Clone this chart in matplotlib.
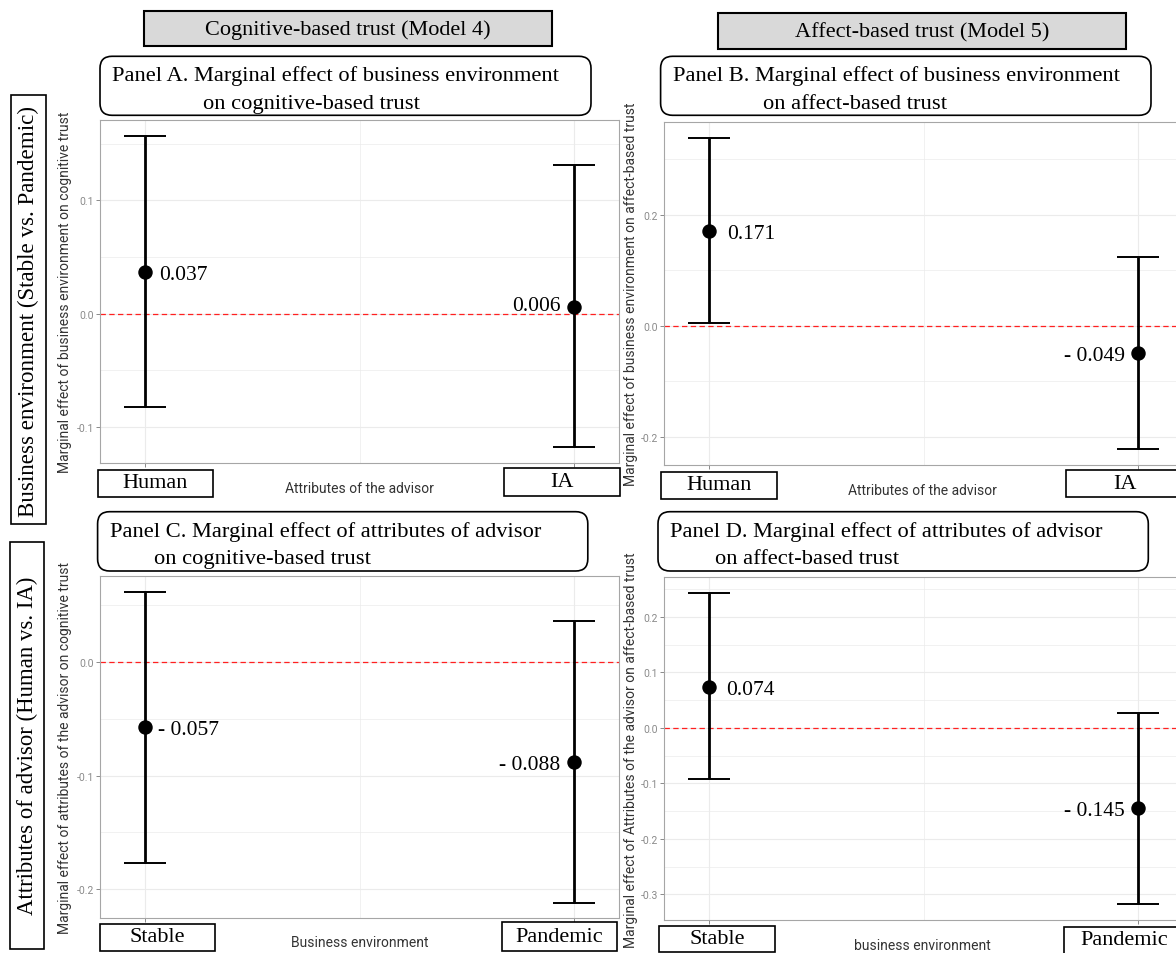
import matplotlib
matplotlib.use('Agg')
import matplotlib.pyplot as plt
from matplotlib.patches import Rectangle, FancyBboxPatch
from matplotlib.ticker import MultipleLocator, FormatStrFormatter
from matplotlib.transforms import Bbox, TransformedBbox

plt.rcParams['axes.unicode_minus'] = False

# ---- data ----
advisor_cats = ['Human', 'IA']
env_cats = ['Stable', 'Pandemic']

# Panel A: effect of business environment on cognitive-based trust
a_est = [0.037, 0.006]
a_low = [-0.082, -0.118]
a_high = [0.157, 0.131]
a_text = ['0.037', '0.006']

# Panel B: effect of business environment on affect-based trust
b_est = [0.171, -0.049]
b_low = [0.004, -0.223]
b_high = [0.338, 0.124]
b_text = ['0.171', '- 0.049']

# Panel C: effect of attributes of advisor on cognitive-based trust
c_est = [-0.057, -0.088]
c_low = [-0.177, -0.212]
c_high = [0.062, 0.036]
c_text = ['- 0.057', '- 0.088']

# Panel D: effect of attributes of advisor on affect-based trust
d_est = [0.074, -0.145]
d_low = [-0.093, -0.318]
d_high = [0.243, 0.027]
d_text = ['0.074', '- 0.145']

W, H = 1176, 954
SERIF = 'Liberation Serif'
SANS = 'Roboto'

fig = plt.figure(figsize=(W / 100, H / 100), dpi=100)
inch = fig.dpi_scale_trans


def pin(x, y):
    return x / 100.0, (H - y) / 100.0


def ftext(x, y, s, **kw):
    return fig.text(*pin(x, y), s, transform=inch, **kw)


def box(x0, y0, x1, y1, fc='white', lw=1.2):
    fig.add_artist(Rectangle(pin(x0, y1), (x1 - x0) / 100, (y1 - y0) / 100,
                             transform=inch, fc=fc, ec='black', lw=lw, zorder=3))


def rbox(x0, y0, x1, y1):
    fig.add_artist(FancyBboxPatch(pin(x0, y1), (x1 - x0) / 100, (y1 - y0) / 100,
                                  boxstyle='round,pad=0,rounding_size=0.12',
                                  transform=inch, fc='white', ec='black', lw=1.2, zorder=3))


def draw_panel(left, top, bottom, est, low, high, texts, step, near_dx, far_dy=0):
    width = 1.21 * 428.6
    ax = fig.add_axes([left / W, 1 - bottom / H, width / W, (bottom - top) / H])
    x = list(range(1, len(est) + 1))
    lo, hi = min(low), max(high)
    pad = 0.05 * (hi - lo)
    ax.set_ylim(lo - pad, hi + pad)
    ax.set_xlim(0.895, 2.105)
    ax.yaxis.set_major_locator(MultipleLocator(step))
    ax.yaxis.set_minor_locator(MultipleLocator(step / 2))
    ax.yaxis.set_major_formatter(FormatStrFormatter('%.1f'))
    ax.set_xticks(x)
    ax.set_xticks([1.5], minor=True)
    ax.set_xticklabels([])
    ax.grid(which='major', color='#ebebeb', lw=0.8)
    ax.grid(which='minor', color='#ebebeb', lw=0.5)
    ax.set_axisbelow(True)
    ax.tick_params(axis='both', which='major', length=3, width=0.7, color='#8a8a8a',
                   labelsize=7.5, labelcolor='#8a8a8a', pad=1.5)
    ax.tick_params(axis='both', which='minor', length=0)
    for lab in ax.get_yticklabels():
        lab.set_fontfamily(SANS)
    for sp in ax.spines.values():
        sp.set_color('#a6a6a6')
        sp.set_linewidth(0.8)
    ax.axhline(0, color='#ff2020', lw=0.9, dashes=(4.3, 2.7), zorder=1)
    yerr = [[e - l for e, l in zip(est, low)], [h - e for e, h in zip(est, high)]]
    ax.errorbar(x, est, yerr=yerr, fmt='o', color='black', ms=9.4,
                elinewidth=2.0, capsize=15.4, capthick=1.4, zorder=3)
    # value labels: first category to the right of the point, second to the left
    ax.annotate(texts[0], (x[0], est[0]), xytext=(near_dx, 0), textcoords='offset points',
                ha='left', va='center_baseline', fontsize=15.5, family=SERIF)
    ax.annotate(texts[1], (x[1], est[1]), xytext=(-9.5, far_dy), textcoords='offset points',
                ha='right', va='center_baseline', fontsize=15.5, family=SERIF)
    return ax


ax_a = draw_panel(100.3, 121, 464, a_est, a_low, a_high, a_text, 0.1, 10, far_dy=3)
ax_b = draw_panel(664.4, 123.3, 466, b_est, b_low, b_high, b_text, 0.2, 13)
ax_c = draw_panel(100.3, 577.3, 919.3, c_est, c_low, c_high, c_text, 0.1, 9)
ax_d = draw_panel(664.4, 578.3, 921, d_est, d_low, d_high, d_text, 0.1, 12)

# axis titles
ylab_kw = dict(rotation=90, ha='center', va='center', fontsize=10, family=SANS, color='#333333')
ftext(65, 292, 'Marginal effect of business environment on cognitive trust', **ylab_kw)
ftext(631, 294, 'Marginal effect of business environment on affect-based trust', **ylab_kw)
ftext(65.5, 748, 'Marginal effect of attributes of the advisor on cognitive trust', **ylab_kw)
lab_d = ftext(631, 750, 'Marginal effect of Attributes of the advisor on affect-based trust', **ylab_kw)
lab_d.set_clip_box(TransformedBbox(Bbox.from_extents(600 / 100, 0, 660 / 100, (H - 553) / 100), inch))
lab_d.set_clip_on(True)

xlab_kw = dict(ha='center', va='center', fontsize=10, family=SANS, color='#333333')
ftext(359.5, 489, 'Attributes of the advisor', **xlab_kw)
ftext(922, 491, 'Attributes of the advisor', **xlab_kw)
ftext(359.5, 943, 'Business environment', **xlab_kw)
ftext(922, 946, 'business environment', **xlab_kw)

# column headers
box(144, 11.7, 552, 47.3, fc='#d9d9d9', lw=1.5)
ftext(348, 30, 'Cognitive-based trust (Model 4)', ha='center', va='center',
      fontsize=16, family=SERIF, zorder=4)
box(718, 14, 1126, 50, fc='#d9d9d9', lw=1.5)
ftext(922, 32.5, 'Affect-based trust (Model 5)', ha='center', va='center',
      fontsize=16, family=SERIF, zorder=4)

# panel titles
title_kw = dict(ha='left', va='baseline', fontsize=16.2, family=SERIF, zorder=4)
rbox(100, 57.3, 591, 116.3)
ftext(112.5, 81, 'Panel A. Marginal effect of business environment', **title_kw)
ftext(203, 109, 'on cognitive-based trust', **title_kw)
rbox(660.6, 57.3, 1151, 116.3)
ftext(673, 81, 'Panel B. Marginal effect of business environment', **title_kw)
ftext(763, 109, 'on affect-based trust', **title_kw)
rbox(97.6, 512.7, 587.8, 572)
ftext(110, 536.7, 'Panel C. Marginal effect of attributes of advisor', **title_kw)
ftext(154, 564.3, 'on cognitive-based trust', **title_kw)
rbox(658, 512.7, 1148.3, 572)
ftext(670, 536.7, 'Panel D. Marginal effect of attributes of advisor', **title_kw)
ftext(715, 564.3, 'on affect-based trust', **title_kw)

# category boxes under each panel
cat_kw = dict(ha='center', va='center', fontsize=16, family=SERIF, zorder=4)
for (x0, y0, x1, y1), name in [((97.6, 471, 213, 498), advisor_cats[0]),
                               ((504, 469.3, 620, 496.7), advisor_cats[1]),
                               ((661, 472.7, 776.5, 500), advisor_cats[0]),
                               ((1066, 471, 1190, 498.3), advisor_cats[1]),
                               ((100.3, 925, 215, 952), env_cats[0]),
                               ((501.7, 923.3, 617.3, 952), env_cats[1]),
                               ((659, 926.7, 775, 953), env_cats[0]),
                               ((1064.3, 927.7, 1190, 955), env_cats[1])]:
    box(x0, y0, x1, y1)
    ftext((x0 + min(x1, 1176)) / 2 + (4 if x1 > 1176 else 0), (y0 + y1) / 2 - 0.5, name, **cat_kw)

# row labels
box(10.5, 96, 45.7, 525)
ftext(28, 312, 'Business environment (Stable vs. Pandemic)', rotation=90,
      ha='center', va='center', fontsize=16.6, family=SERIF, zorder=4)
box(9.6, 542.7, 44, 950)
ftext(27, 746, 'Attributes of advisor (Human vs. IA)', rotation=90,
      ha='center', va='center', fontsize=16.4, family=SERIF, zorder=4)

fig.savefig('out.png', dpi=100)
